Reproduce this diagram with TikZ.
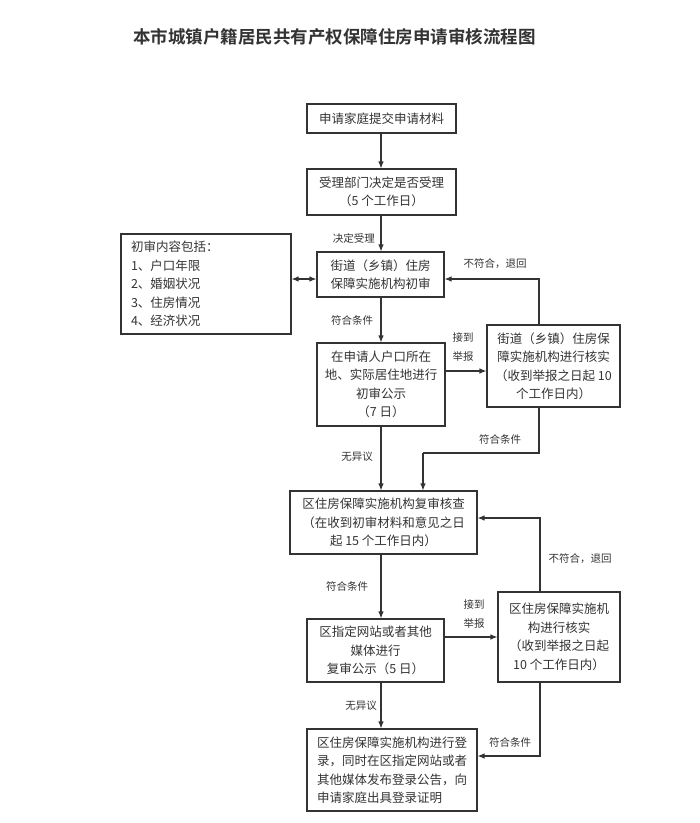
\documentclass[tikz,border=0pt]{standalone}
\usepackage{fontspec}
\newfontfamily\cjk{Noto Sans CJK SC}
\newfontfamily\cjkbold{Noto Sans CJK SC Bold}
\usetikzlibrary{arrows.meta}
\definecolor{ink}{HTML}{333333}
\tikzset{
  box/.style={draw=ink, line width=1.1pt, text=ink, align=center, inner sep=0pt,
    font=\cjk\fontsize{12.5}{18.5}\selectfont},
  leftbox/.style={box, align=left, inner xsep=10pt},
  lbl/.style={text=ink, align=center, inner sep=0pt, font=\cjk\fontsize{10.5}{19}\selectfont},
  arr/.style={draw=ink, line width=1.1pt, -{Latex[length=7pt,width=5.5pt]}},
  dblarr/.style={draw=ink, line width=1.1pt, {Latex[length=7pt,width=5.5pt]}-{Latex[length=7pt,width=5.5pt]}},
  ln/.style={draw=ink, line width=1.1pt}
}
\begin{document}
\begin{tikzpicture}[x=1pt, y=-1pt]
\useasboundingbox[fill=white] (0,0) rectangle (700,823);
\node[text=ink, font=\cjkbold\fontsize{17.5}{20}\selectfont, inner sep=0pt] (title) at (334.5,37) {本市城镇户籍居民共有产权保障住房申请审核流程图};

\coordinate (axis) at (381,0);
\coordinate (r1) at (539,0);
\coordinate (r2) at (540,0);
\coordinate (h1) at (0,279);
\coordinate (h2) at (0,371);
\coordinate (h3) at (0,518);
\coordinate (h4) at (0,756);
\coordinate (c1) at (539,453);
\coordinate (c2) at (423,453);

\node[box, minimum width=149pt, minimum height=29pt] (b1) at (381.5,118.5) {申请家庭提交申请材料};
\node[box, minimum width=149pt, minimum height=46pt] (b2) at (381.5,192) {受理部门决定是否受理\\（5 个工作日）};
\node[box, minimum width=127pt, minimum height=45pt] (b3) at (380.5,274.5) {街道（乡镇）住房\\保障实施机构初审};
\node[leftbox, text width=150pt, minimum height=100pt] (lb) at (206,284) {初审内容包括：\\1、户口年限\\2、婚姻状况\\3、住房情况\\4、经济状况};
\node[box, minimum width=133pt, minimum height=82pt] (b4) at (553.5,366) {街道（乡镇）住房保\\障实施机构进行核实\\（收到举报之日起 10\\个工作日内）};
\node[box, minimum width=128pt, minimum height=83pt] (b5) at (381,384.5) {在申请人户口所在\\地、实际居住地进行\\初审公示\\（7 日）};
\node[box, minimum width=187pt, minimum height=63pt] (b6) at (383.5,522.5) {区住房保障实施机构复审核查\\（在收到初审材料和意见之日\\起 15 个工作日内）};
\node[box, minimum width=137pt, minimum height=63pt] (b7) at (375.5,650.5) {区指定网站或者其他\\媒体进行\\复审公示（5 日）};
\node[box, minimum width=122pt, minimum height=90pt] (b8) at (559,637) {区住房保障实施机\\构进行核实\\（收到举报之日起\\10 个工作日内）};
\node[leftbox, text width=150pt, minimum height=82pt] (b9) at (392,770) {区住房保障实施机构进行登\\录，同时在区指定网站或者\\其他媒体发布登录公告，向\\申请家庭出具登录证明};

% vertical main flow
\draw[arr] (b1.south -| axis) -- (b2.north -| axis);
\draw[arr] (b2.south -| axis) -- (b3.north -| axis);
\draw[arr] (b3.south -| axis) -- (b5.north -| axis);
\draw[arr] (b5.south -| axis) -- (b6.north -| axis);
\draw[arr] (b6.south -| axis) -- (b7.north -| axis);
\draw[arr] (b7.south -| axis) -- (b9.north -| axis);

% side connectors
\draw[dblarr] (lb.east |- h1) -- (b3.west |- h1);
\draw[arr] (b4.north -| r1) |- (b3.east |- h1);
\draw[arr] (b5.east |- h2) -- (b4.west |- h2);
\draw[ln] (b4.south -| r1) -- (c1) -- (c2);
\draw[arr] (c2) -- (b6.north -| c2);
\draw[arr] (b7.east |- b8.west) -- (b8.west);
\draw[arr] (b8.north -| r2) |- (b6.east |- h3);
\draw[arr] (b8.south -| r2) |- (b9.east |- h4);

% labels
\node[lbl, anchor=east] (l1) at (375,238) {决定受理};
\node[lbl] (l2) at (352,320) {符合条件};
\node[lbl] (l3) at (495,264) {不符合，退回};
\node[lbl] (l4) at (463,347) {接到\\举报};
\node[lbl] (l5) at (357,457) {无异议};
\node[lbl] (l6) at (500,439) {符合条件};
\node[lbl] (l7) at (347,586) {符合条件};
\node[lbl] (l8) at (474,614) {接到\\举报};
\node[lbl] (l9) at (580,559) {不符合，退回};
\node[lbl] (l10) at (361,706) {无异议};
\node[lbl] (l11) at (510,742) {符合条件};
\end{tikzpicture}
\end{document}
